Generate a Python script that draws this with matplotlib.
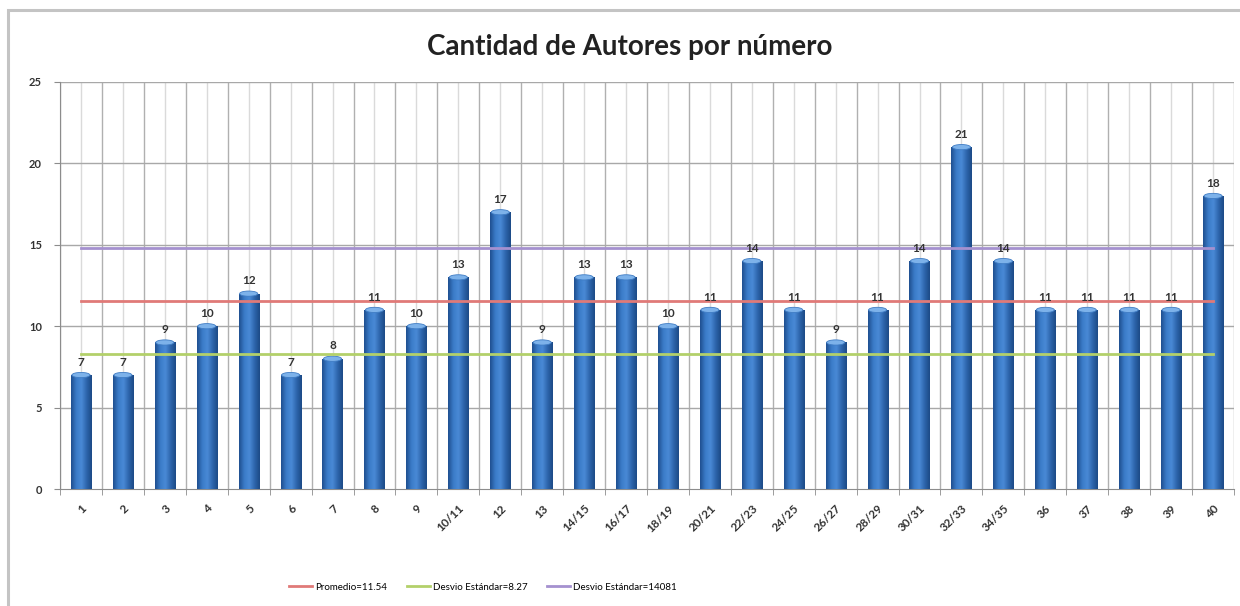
import numpy as np
import matplotlib.pyplot as plt
from matplotlib.patches import Rectangle, Ellipse
from matplotlib.colors import LinearSegmentedColormap
from matplotlib.lines import Line2D

plt.rcParams['font.family'] = ['Lato', 'DejaVu Sans']

# data
numeros = ['1', '2', '3', '4', '5', '6', '7', '8', '9', '10/11', '12', '13',
           '14/15', '16/17', '18/19', '20/21', '22/23', '24/25', '26/27', '28/29',
           '30/31', '32/33', '34/35', '36', '37', '38', '39', '40']
autores = [7, 7, 9, 10, 12, 7, 8, 11, 10, 13, 17, 9, 13, 13, 10, 11, 14, 11, 9,
           11, 14, 21, 14, 11, 11, 11, 11, 18]
promedio = 11.54
desvio_bajo = 8.27
desvio_alto = 14.81
leyendas = ['Promedio=11.54', 'Desvio Estándar=8.27', 'Desvio Estándar=14081']

fig = plt.figure(figsize=(12.4, 6.06), dpi=100)
ax = fig.add_axes([60 / 1240, 117 / 606, 1174 / 1240, 407 / 606])

# chart frame (right and bottom edges fall outside the picture)
fig.patches.append(Rectangle((8 / 1240, -0.2), 1.5, 1 - 10 / 606 + 0.2,
                             transform=fig.transFigure, fill=False,
                             edgecolor='#c4c4c4', lw=2.2, zorder=0))

x = np.arange(len(numeros))
w = 0.48
cmap = LinearSegmentedColormap.from_list('barra', ['#1f4f8f', '#3a7bc8', '#4a8ad6', '#2d65ac', '#1c4a86'])
grad = np.linspace(0, 1, 64).reshape(1, -1)

for xi, v in zip(x, autores):
    rect = Rectangle((xi - w / 2, 0), w, v, facecolor='none', edgecolor='none')
    ax.add_patch(rect)
    im = ax.imshow(grad, extent=[xi - w / 2, xi + w / 2, 0, v], aspect='auto',
                   cmap=cmap, zorder=3, interpolation='bicubic')
    im.set_clip_path(rect)
    ax.add_patch(Ellipse((xi, v), w * 0.9, 0.32, facecolor='#7db2ea',
                         edgecolor='#3f7cc4', lw=0.6, zorder=4))
    ax.text(xi, v + 0.45, str(v), ha='center', va='bottom', fontsize=8.5,
            fontweight='bold', color='#333333', zorder=6)

colores = ['#e07a78', '#b3d06a', '#a591cf']
for val, c in zip([promedio, desvio_bajo, desvio_alto], colores):
    ax.plot([x[0], x[-1]], [val, val], color=c, lw=2, zorder=5)

ax.set_xlim(-0.5, len(numeros) - 0.5)
ax.set_ylim(0, 25)
ax.set_yticks(range(0, 26, 5))

# gridlines: boundaries darker, centres lighter
for b in np.arange(-0.5, len(numeros), 1.0):
    ax.axvline(b, color='#b0b0b0', lw=1, zorder=1)
for xi in x:
    ax.axvline(xi, color='#dadada', lw=1, zorder=1)
for yv in range(5, 26, 5):
    ax.axhline(yv, color='#a8a8a8', lw=1, zorder=1)

ax.set_xticks(x)
ax.set_xticklabels(numeros, rotation=45, ha='right', rotation_mode='anchor',
                   fontsize=8.5, fontweight='bold', color='#333333')
ax.tick_params(axis='x', length=0, pad=10)
ax.set_xticks(np.arange(-0.5, len(numeros), 1.0), minor=True)
ax.tick_params(axis='x', which='minor', length=4, color='#8c8c8c')
ax.tick_params(axis='y', labelsize=8, colors='#8c8c8c', length=4, pad=9)
for lab in ax.get_yticklabels():
    lab.set_color('#333333')
    lab.set_fontweight('bold')

for s in ['top', 'right']:
    ax.spines[s].set_visible(False)
ax.spines['left'].set_color('#8c8c8c')
ax.spines['bottom'].set_color('#8c8c8c')

fig.text(0.508, 1 - 47 / 606, 'Cantidad de Autores por número', ha='center',
         va='center', fontsize=20, fontweight='bold', color='#222222')

handles = [Line2D([], [], color=c, lw=2) for c in colores]
fig.legend(handles, leyendas, loc='center', bbox_to_anchor=(483 / 1240, 1 - 587 / 606),
           ncol=3, frameon=False, fontsize=7, handlelength=2.4,
           columnspacing=2.0, handletextpad=0.3)

fig.savefig('out.png', dpi=100)
